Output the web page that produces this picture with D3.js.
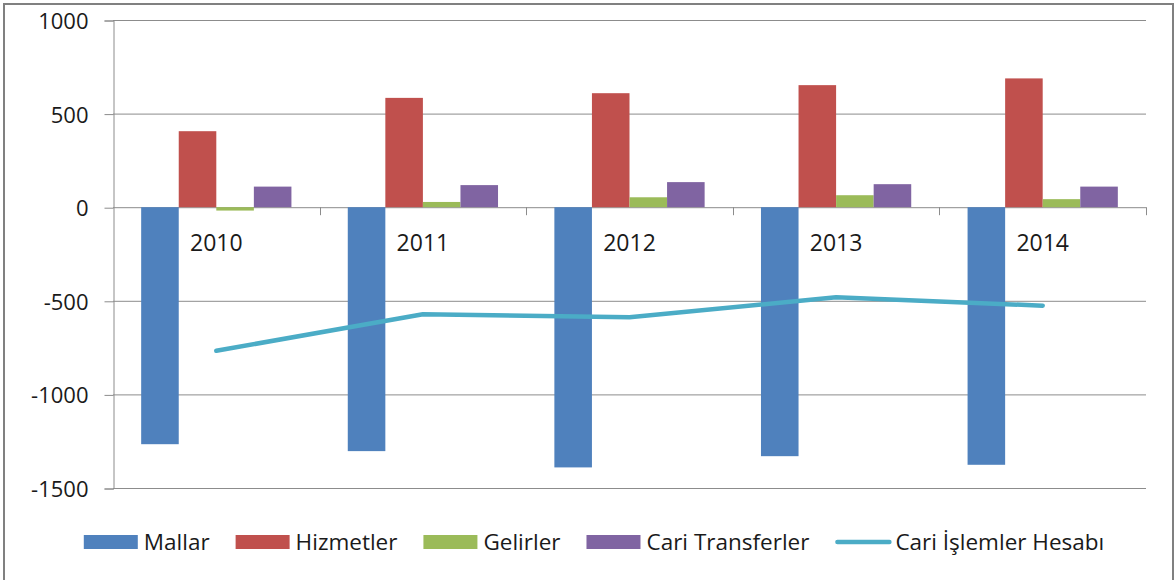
<!DOCTYPE html>
<html lang="tr">
<head>
    <meta charset="UTF-8">
    <title>Cari İşlemler Hesabı</title>
    <script src="https://d3js.org/d3.v7.min.js"></script>
    <style>
        body { margin: 0; background: #fff; }
        svg text { font-family: 'Open Sans', sans-serif; fill: #1a1a1a; }
    </style>
</head>
<body>
<script>
    // data
    const years = ["2010", "2011", "2012", "2013", "2014"];
    const seriesNames = ["Mallar", "Hizmetler", "Gelirler", "Cari Transferler"];
    const mallar = [-1266, -1303, -1390, -1330, -1376];
    const hizmetler = [406, 584, 609, 652, 688];
    const gelirler = [-18, 28, 53, 64, 43];
    const cariTransferler = [110, 118, 134, 123, 110];
    const lineName = "Cari İşlemler Hesabı";
    const cariIslemler = [-767, -572, -588, -481, -526];
    const yTicks = [1000, 500, 0, -500, -1000, -1500];

    const colors = ["#4f81bd", "#c0504d", "#9bbb59", "#8064a2"];
    const lineColor = "#4bacc6";

    const W = 1176, H = 580;
    const plot = {left: 113, right: 1146, top: 20, bottom: 488};

    const svg = d3.select("body").append("svg")
        .attr("width", W).attr("height", H);

    // outer frame
    svg.append("rect")
        .attr("x", 4).attr("y", 4)
        .attr("width", 1169).attr("height", 600)
        .attr("fill", "none").attr("stroke", "#808080").attr("stroke-width", 2);

    const x0 = d3.scaleBand().domain(years).range([plot.left, plot.right]).padding(0);
    const x1 = d3.scaleBand().domain(seriesNames).range([0, x0.bandwidth()])
        .paddingInner(0).paddingOuter(0.75);
    const y = d3.scaleLinear().domain([-1500, 1000]).range([plot.bottom, plot.top]);

    // gridlines
    svg.append("g").selectAll("line")
        .data(yTicks).join("line")
        .attr("x1", plot.left).attr("x2", plot.right)
        .attr("y1", d => y(d) + 0.5).attr("y2", d => y(d) + 0.5)
        .attr("stroke", "#8c8c8c").attr("stroke-width", 1);

    // y axis
    const yAxis = svg.append("g")
        .attr("transform", `translate(${plot.left + 0.5},0.5)`)
        .call(d3.axisLeft(y).tickValues(yTicks).tickSize(9).tickPadding(16).tickFormat(d => String(d)));
    yAxis.select(".domain").attr("stroke", "#8c8c8c");
    yAxis.selectAll(".tick line").attr("stroke", "#8c8c8c");
    yAxis.selectAll(".tick text")
        .attr("font-size", 22).attr("font-family", "'Open Sans', sans-serif").attr("fill", "#1a1a1a")
        .attr("dy", "0.36em");

    // category ticks on zero line
    const boundaries = years.map(d => x0(d) + x0.bandwidth());
    svg.append("g").selectAll("line")
        .data(boundaries).join("line")
        .attr("x1", d => Math.round(d) + 0.5).attr("x2", d => Math.round(d) + 0.5)
        .attr("y1", y(0)).attr("y2", y(0) + 8)
        .attr("stroke", "#8c8c8c");

    // bars
    const seriesValues = [mallar, hizmetler, gelirler, cariTransferler];
    const barData = [];
    years.forEach((yr, i) => {
        seriesNames.forEach((s, j) => {
            barData.push({year: yr, series: s, value: seriesValues[j][i], color: colors[j]});
        });
    });
    svg.append("g").selectAll("rect")
        .data(barData).join("rect")
        .attr("x", d => x0(d.year) + x1(d.series))
        .attr("width", x1.bandwidth())
        .attr("y", d => y(Math.max(0, d.value)))
        .attr("height", d => Math.abs(y(d.value) - y(0)))
        .attr("fill", d => d.color);

    // year labels under zero line
    svg.append("g").selectAll("text")
        .data(years).join("text")
        .attr("x", d => x0(d) + x0.bandwidth() / 2)
        .attr("y", 251)
        .attr("text-anchor", "middle")
        .attr("font-size", 23)
        .text(d => d);

    // line
    const line = d3.line()
        .x((d, i) => x0(years[i]) + x0.bandwidth() / 2)
        .y(d => y(d));
    svg.append("path")
        .datum(cariIslemler)
        .attr("d", line)
        .attr("fill", "none")
        .attr("stroke", lineColor)
        .attr("stroke-width", 4.5)
        .attr("stroke-linecap", "round")
        .attr("stroke-linejoin", "round");

    // legend
    const legendItems = seriesNames.map((s, i) => ({name: s, color: colors[i], type: "rect"}))
        .concat([{name: lineName, color: lineColor, type: "line"}]);
    const legend = svg.append("g");
    const swatchW = 54, ly = 542, gap = 26;
    let lx = 0;
    legendItems.forEach(it => {
        const g = legend.append("g").attr("transform", `translate(${lx},0)`);
        if (it.type === "rect") {
            g.append("rect").attr("x", 0).attr("y", ly - 7).attr("width", swatchW).attr("height", 14)
                .attr("fill", it.color);
        } else {
            g.append("line").attr("x1", 2).attr("x2", swatchW).attr("y1", ly).attr("y2", ly)
                .attr("stroke", it.color).attr("stroke-width", 4.5).attr("stroke-linecap", "round");
        }
        const t = g.append("text").attr("x", swatchW + 6).attr("y", ly).attr("dy", "0.36em")
            .attr("font-size", 22.5).text(it.name);
        lx += swatchW + 6 + t.node().getComputedTextLength() + gap;
    });
    const legendW = lx - gap;
    legend.attr("transform", `translate(${594 - legendW / 2},0)`);
</script>
</body>
</html>
